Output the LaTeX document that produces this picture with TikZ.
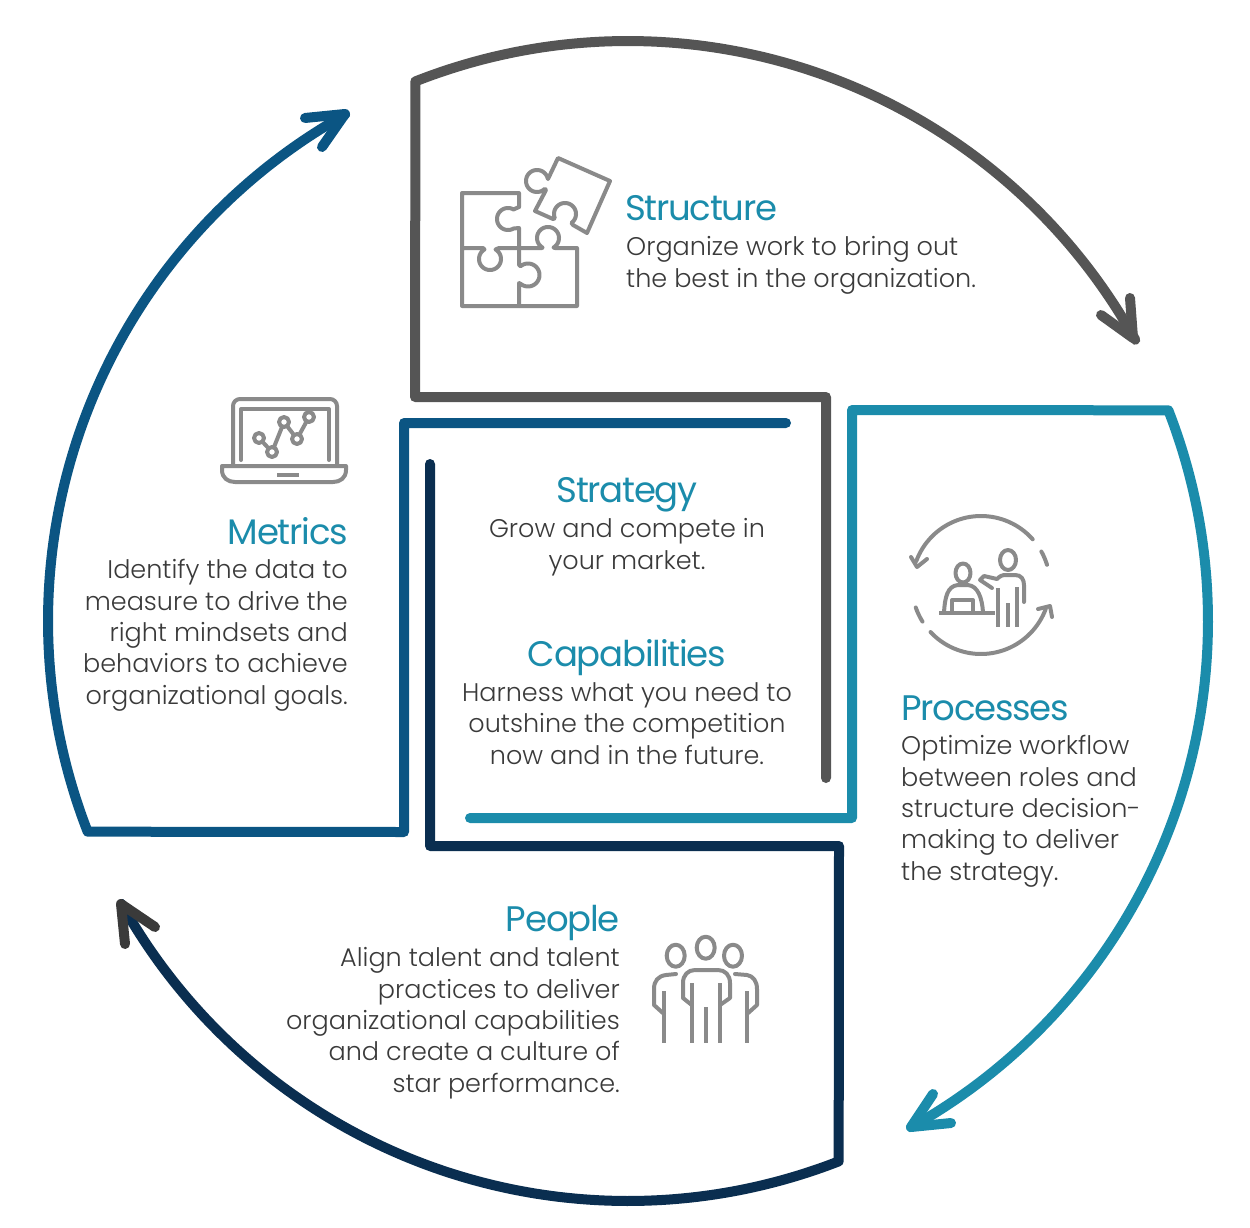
\documentclass[tikz,border=0pt]{standalone}
\usepackage{fontspec}
\setmainfont{Poppins Light}
\newfontfamily\headf[LetterSpace=-3.5]{Poppins}
\definecolor{cgrey}{HTML}{555555}
\definecolor{cteal}{HTML}{1B8CAB}
\definecolor{cblue}{HTML}{0B5583}
\definecolor{cnavy}{HTML}{0A2E50}
\definecolor{chead}{HTML}{3A3A3A}
\definecolor{ctext}{HTML}{3A3A3A}
\definecolor{cicon}{HTML}{8A8A8A}
\tikzset{
  band/.style={line width=10pt,line cap=round,line join=round},
  icon/.style={draw=cicon,line width=4pt,line cap=round,line join=round},
  head/.style={text=cteal,inner sep=0pt,font=\headf\fontsize{35.5}{38}\selectfont},
  body/.style={text=ctext,inner sep=0pt,font=\fontsize{25.5}{31.3}\selectfont},
  ring/.style={samples=120},
  kn/.style={samples=40},
}
\begin{document}
\begin{tikzpicture}[x=1pt,y=-1pt]
\useasboundingbox (0,0) rectangle (1250,1228);
% bands
\coordinate (s1) at (826,778); \coordinate (s2) at (826,397); \coordinate (s3) at (415,397);
\draw[band,cgrey] (s1) -- (s2) -- (s3) -- plot[ring,domain=-111.5:-29] ({628+580*cos(\x)},{621+580*sin(\x)});
\draw[band,cgrey] (1101,315) -- (1133,338) -- (1130,298);
\coordinate (p1) at (470,818); \coordinate (p2) at (852,818); \coordinate (p3) at (852,410);
\draw[band,cteal] (p1) -- (p2) -- (p3) -- plot[ring,domain=-21.3:60.8] ({628+580*cos(\x)},{621+580*sin(\x)});
\draw[band,cteal] (933,1094) -- (911,1127) -- (951,1123);
\coordinate (q1) at (430,464); \coordinate (q2) at (430,846); \coordinate (q3) at (839,846);
\draw[band,cnavy] (q1) -- (q2) -- (q3) -- plot[ring,domain=68.7:150.8] ({628+580*cos(\x)},{621+580*sin(\x)});
\draw[band,chead] (125,944) -- (121,904) -- (155,927);
\coordinate (m1) at (786,423); \coordinate (m2) at (404,423); \coordinate (m3) at (404,832);
\draw[band,cblue] (m1) -- (m2) -- (m3) -- plot[ring,domain=158.7:240.8] ({628+580*cos(\x)},{621+580*sin(\x)});
\draw[band,cblue] (305,118) -- (345,114) -- (322,147);
% puzzle
\draw[icon] (519,207) -- (519,193) -- (462,193) -- (462,306) -- (577,306) -- (577,248) -- (555,248)
  -- plot[kn,domain=60:-240] ({548+11*cos(\x)},{238+11*sin(\x)}) -- (542,248) -- (499,248)
  -- plot[kn,domain=-60:240] ({490+11*cos(\x)},{259+11*sin(\x)}) -- (483,248) -- (462,248);
\draw[icon] (519,306) -- (519,283) -- plot[kn,domain=130:-130] ({528+11.5*cos(\x)},{275+11.5*sin(\x)}) -- (519,265) -- (519,228)
  -- plot[kn,domain=60:300] ({508+11*cos(\x)},{219+11*sin(\x)}) -- (519,207);
\draw[icon] (558,158) -- (610,181) -- (587,233) -- (573,225) -- plot[kn,domain=54:-203] ({565+11*cos(\x)},{214+11*sin(\x)}) -- (553,219) -- (535,211) -- (546,190)
  -- plot[kn,domain=45:346] ({537+11*cos(\x)},{181+11*sin(\x)}) -- (548,179) -- cycle;
% laptop
\draw[icon,rounded corners=7pt] (233,465) -- (233,399) -- (337,399) -- (337,465);
\draw[icon] (241,460) -- (241,409) -- (329,409) -- (329,460);
\draw[icon] (222,466) -- (346,466) -- (346,470) .. controls (346,478) and (340,482) .. (333,482) -- (235,482) .. controls (228,482) and (222,478) .. (222,470) -- cycle;
\draw[icon,line cap=butt] (277,475) -- (299,475);
\draw[icon] (259,438) -- (272,452) -- (284,422) -- (297,439) -- (309,417);
\foreach \px/\py in {259/438,272/452,284/422,297/439,309/417}
  \draw[icon,fill=white] (\px,\py) circle (5);
% process icon
\draw[icon] plot[kn,domain=-41.5:-160] ({981+69*cos(\x)},{585+69*sin(\x)});
\draw[icon] (911,557) -- (917,567) -- (927,559);
\draw[icon] plot[kn,domain=-29:-17] ({981+69*cos(\x)},{585+69*sin(\x)});
\draw[icon] plot[kn,domain=161:148] ({981+69*cos(\x)},{585+69*sin(\x)});
\draw[icon] plot[kn,domain=137:20] ({981+69*cos(\x)},{585+69*sin(\x)});
\draw[icon] (1038,609) -- (1050,606) -- (1052,617);
\draw[icon] (963,573) ellipse (7.5 and 9.5);
\draw[icon] (944,612) .. controls (945,598) and (947,586) .. (958,585) -- (968,585) .. controls (978,586) and (982,598) .. (983,612);
\draw[icon,line cap=butt] (939,613) -- (995,613);
\draw[icon] (952,611) -- (952,600) -- (973,600) -- (973,611);
\draw[icon] (1008,560) ellipse (8 and 10);
\draw[icon] (992,588) -- (980,580) -- (984,576) -- (997,579) .. controls (1000,576) and (1002,575) .. (1006,575) -- (1015,575) .. controls (1021,575) and (1024,579) .. (1024,585) -- (1024,602);
\draw[icon,line cap=butt] (998,588) -- (998,627);
\draw[icon,line cap=butt] (1008,603) -- (1008,627);
\draw[icon,line cap=butt] (1017,587) -- (1017,627);
% people icon
\draw[icon] (705.7,947.7) ellipse (9 and 11);
\draw[icon] (675.7,955.7) ellipse (9 and 11);
\draw[icon] (733,955.7) ellipse (9 and 11);
\draw[icon] (691.7,1005) -- (683,998) -- (683,983) .. controls (683,975) and (688,970) .. (695,970) -- (718,970) .. controls (725,970) and (730,975) .. (730,983) -- (730,998) -- (720,1005);
\draw[icon,line cap=butt] (691.7,983) -- (691.7,1043);
\draw[icon,line cap=butt] (720,983) -- (720,1043);
\draw[icon,line cap=butt] (705.7,1007) -- (705.7,1043);
\draw[icon] (676,974) -- (666,975) .. controls (658,976) and (654,981) .. (654,989) -- (654,1005) -- (664,1014);
\draw[icon,line cap=butt] (664,991) -- (664,1043);
\draw[icon] (735,974) -- (747,975) .. controls (753,976) and (757,981) .. (757,989) -- (757,1005) -- (747,1014);
\draw[icon,line cap=butt] (747,991) -- (747,1043);
% text
\node[head,anchor=base west] (th) at (625,220) {Structure};
\node[body,anchor=base west,align=left] (tb) at (626,287) {Organize work to bring out\\the best in the organization.};
\node[head,anchor=base] (sh) at (627,502) {Strategy};
\node[body,anchor=base,align=center] (sb) at (627,569) {Grow and compete in\\your market.};
\node[head,anchor=base] (ch) at (627,666) {Capabilities};
\node[body,anchor=base,align=center] (cb) at (627,764) {Harness what you need to\\outshine the competition\\now and in the future.};
\node[head,anchor=base east] (mh) at (348,544) {Metrics};
\node[body,anchor=base east,align=right] (mb) at (348,704) {Identify the data to\\measure to drive the\\right mindsets and\\behaviors to achieve\\organizational goals.};
\node[head,anchor=base west] (ph) at (901,720) {Processes};
\node[body,anchor=base west,align=left] (pb) at (901,880) {Optimize workflow\\between roles and\\structure decision-\\making to deliver\\the strategy.};
\node[head,anchor=base east] (eh) at (620,931) {People};
\node[body,anchor=base east,align=right] (eb) at (620,1092) {Align talent and talent\\practices to deliver\\organizational capabilities\\and create a culture of\\star performance.};
\end{tikzpicture}
\end{document}
